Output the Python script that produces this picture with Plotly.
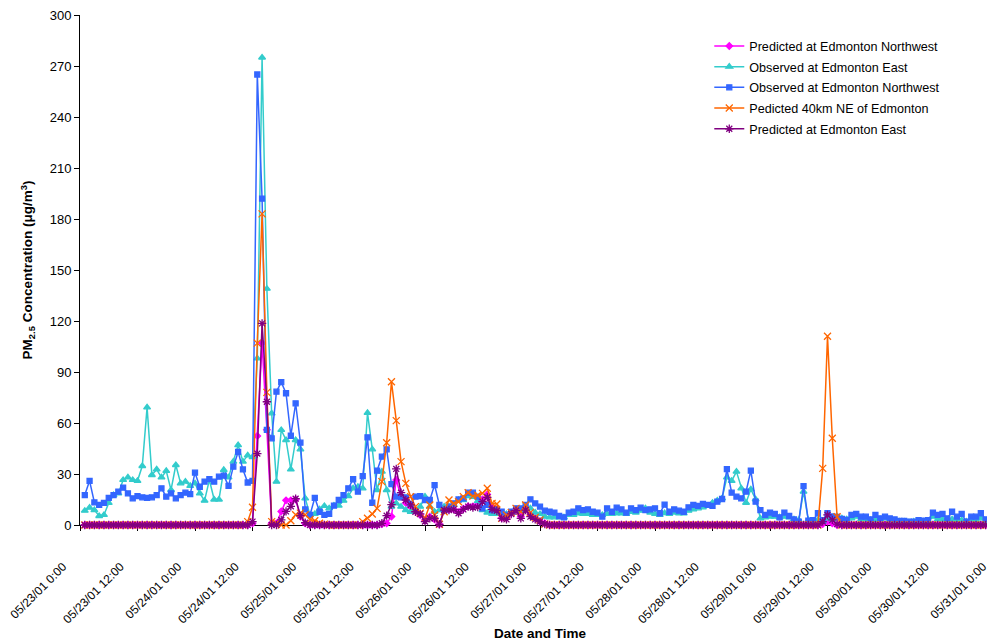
import pandas as pd
import plotly.graph_objects as go

# Hourly timestamps 05/23/01 01:00 .. 05/31/01 00:00 (192 hours)
times = pd.date_range("2001-05-23 01:00", periods=192, freq="h")

obs_nw = [17.6, 26, 13.3, 11.8, 13, 16, 17.6, 19.6, 22, 18.6, 15.7, 17, 16.3, 16, 16.3, 17.6, 21.6, 16.7, 18.6, 15.7,
          17.6, 19, 18.2, 30.8, 22.5, 25.5, 27, 25.5, 28.4, 29, 23, 34.3, 43, 32.7, 25, 26, 265, 192, 56, 51,
          78.4, 84, 77.5, 52.5, 71.6, 48.4, 9.2, 5.9, 16, 7.8, 5.9, 6.5, 11.4, 14.7, 17.6, 21.6, 26.9, 19.6, 28.8, 51.6,
          13.1, 32, 40.2, 44.5, 24.1, 16.7, 16.3, 16.3, 12.4, 16.7, 17, 14.7, 14.7, 23.5, 11.8, 8.4, 10.8, 12.7, 15, 15.7,
          19, 19, 16.7, 9.8, 11.8, 8.8, 9.2, 7.8, 5.9, 7.8, 9.8, 9.8, 11.8, 15.1, 12.7, 10.8, 8.4, 7.8, 7.3, 5.3,
          4.5, 7.3, 7.8, 9.8, 8.8, 9.2, 7.8, 7.3, 4.9, 9.8, 7.8, 10.2, 9.2, 7.3, 9.8, 8.8, 10.2, 8.8, 9.2, 9.8,
          6.9, 12, 7.8, 9.2, 8.4, 7.8, 10.4, 11.8, 11.2, 12.4, 11.8, 11.2, 13.7, 15.3, 32.9, 19, 16.7, 15.7, 19.6, 32,
          13.7, 8.8, 5.9, 7.3, 6.5, 4.5, 7.3, 5.3, 3.3, 2, 22.9, 2.5, 2.9, 6.9, 2.9, 7, 5, 4.7, 3.6, 3,
          5.9, 6.6, 4.9, 4.9, 3.3, 5.9, 3.9, 4.9, 3.9, 3.3, 2.4, 2.4, 2, 2, 2.9, 2.5, 2.9, 7.3, 5.9, 6.5,
          3.9, 7.8, 4.9, 6.5, 2, 4.9, 4.9, 6.9, 3.3, 2.4, 4.9, 4.7]

obs_east = [8.4, 10.2, 8.8, 5.3, 5.9, 13, 17.6, 18.6, 26.5, 28, 26.5, 26, 34.7, 69.2, 29.4, 32.7, 28, 31.8, 20.6, 35.3,
            24.5, 25.5, 23, 24.5, 18.6, 14.3, 26.5, 15, 15, 32.4, 28, 37.3, 47, 37.3, 41, 40, 98, 275, 139, 65.7,
            25.5, 55.9, 50, 32.7, 50, 44.5, 15.7, 5.9, 6.5, 9.2, 11.2, 9.8, 11.4, 11.4, 14.3, 17, 21.6, 22.5, 21.6, 66,
            44.5, 20.6, 31.4, 20.6, 10.8, 12.7, 10.8, 8.8, 7.8, 8.8, 10.8, 16.7, 10.8, 7.8, 8.8, 10.8, 10.8, 11.8, 14.7, 14.7,
            17, 16.5, 14, 8.8, 7.3, 6.5, 6.5, 6.9, 6.5, 7.3, 9.2, 8.4, 9.2, 9.8, 7.3, 6.5, 4.9, 4.5, 4.5, 4.5,
            4.5, 5.9, 5.9, 6.9, 6.5, 6.5, 5.9, 5.9, 5.9, 6.5, 6.5, 6.9, 6.9, 6.5, 7.8, 7.3, 8.4, 9.8, 7.3, 6.5,
            5.9, 7, 6.5, 7.3, 6.9, 6.9, 8.4, 9.2, 9.8, 10.4, 11.2, 13.1, 14.3, 15.7, 28, 26, 31.4, 21.6, 13.1, 21,
            15.1, 3.9, 4.5, 4.9, 4.9, 4.5, 4.9, 4.5, 3.3, 2.9, 19.6, 2.9, 2.4, 2.9, 2, 3.9, 3.3, 4.9, 3.9, 3.3,
            3.9, 4.9, 3.3, 3.3, 2.9, 2.9, 3.3, 3.9, 2.9, 2, 2, 2, 1.6, 2, 2, 2, 2, 4.9, 3.3, 3.3,
            2.9, 3.3, 2.9, 2.9, 2, 3.3, 2.9, 3.9, 2.4, 2, 2.9, 3]

pred_ne = ([0] * 34 + [2, 10.4, 107, 183, 78, 2, 1, 0, 0, 2.5, 6, 7, 6, 3.3, 2.5, 1, 0.5]
           + [0] * 7 + [2, 4, 6.5, 9.8, 25.5, 48.4, 84.3, 61.4, 37.3, 24.5, 16.7, 10.8, 6.9, 3.9, 11.8, 5.9, 0.4,
                        7.8, 14.7, 12.7, 13.7, 16.7, 19, 17, 17.5, 18.6, 21.6, 12.7, 12.4, 3.9, 5.9, 7.3, 9.8, 7.8,
                        11.8, 7.3, 4.5, 2.9, 0.6]
           + [0] * 57 + [33.3, 111, 51, 4.9] + [0] * 34)

pred_nw = ([0] * 35 + [1, 52.4, 107, 56, 1, 1, 8, 14.5, 14.5, 15, 5, 1]
           + [0] * 15 + [0.5, 1, 5, 26.5, 16.7, 13, 10.8, 8.4, 5.9, 3, 4.9, 3.3, 0.4, 8.8, 9, 9.2, 7.5, 9.5,
                         11, 11, 12, 15, 18, 11, 9, 4, 4, 7, 9, 5, 9, 6, 4, 2, 1]
           + [0] * 57 + [0.5, 2, 1] + [0] * 35)

pred_east = ([0] * 35 + [2, 42, 118.6, 72.5, 0, 0, 3, 8, 11, 15.5, 5.5, 1.4]
             + [0] * 15 + [1, 5.5, 12, 33, 19, 14.7, 11.8, 7.8, 6.5, 2, 3.9, 3.9, 0.4, 8.8, 8.8, 9.2, 6.9, 9.2,
                           10.8, 10.3, 10.5, 13.7, 16.3, 9.2, 8.4, 3.9, 3.3, 6.5, 8.4, 3.9, 8.8, 4.9, 3.3, 2, 0.6]
             + [0] * 57 + [2, 5.9, 3, 0.5] + [0] * 34)

tick_vals = pd.date_range("2001-05-23 00:00", "2001-05-31 00:00", freq="12h")
tick_text = ["05/23/01 0:00", "05/23/01 12:00", "05/24/01 0:00", "05/24/01 12:00",
             "05/25/01 0:00", "05/25/01 12:00", "05/26/01 0:00", "05/26/01 12:00",
             "05/27/01 0:00", "05/27/01 12:00", "05/28/01 0:00", "05/28/01 12:00",
             "05/29/01 0:00", "05/29/01 12:00", "05/30/01 0:00", "05/30/01 12:00",
             "05/31/01 0:00"]
y_ticks = [0, 30, 60, 90, 120, 150, 180, 210, 240, 270, 300]

FONT = "Arial, Liberation Sans, sans-serif"

series = [
    ("Predicted at Edmonton Northwest", pred_nw, "#FF00FF", dict(symbol="diamond", size=5)),
    ("Observed at Edmonton East", obs_east, "#33CCCC", dict(symbol="triangle-up", size=6)),
    ("Observed at Edmonton Northwest", obs_nw, "#3366FF", dict(symbol="square", size=5)),
    ("Pedicted 40km NE of Edmonton", pred_ne, "#FF6600", dict(symbol="x-thin-open", size=7)),
    ("Predicted at Edmonton East", pred_east, "#800080", dict(symbol="asterisk-open", size=7)),
]

fig = go.Figure()
for i, (name, vals, col, mk) in enumerate(series):
    marker = dict(color=col, line=dict(color=col, width=1.3), **mk)
    fig.add_trace(go.Scatter(
        x=times, y=vals, name=name, mode="lines+markers", legendgroup=f"g{i}",
        line=dict(color=col, width=1.5), marker=marker, cliponaxis=False,
    ))

# page body has an 8px margin; the reference plot area runs slightly past the right edge
fig.update_layout(
    width=992, height=635,
    margin=dict(l=72, r=0, t=7, b=118),
    paper_bgcolor="white", plot_bgcolor="white",
    font=dict(family=FONT, size=13, color="black"),
    showlegend=True,
    legend=dict(x=0.684, y=0.968, xanchor="left", yanchor="top",
                font=dict(size=12.6, family=FONT), bgcolor="rgba(0,0,0,0)",
                tracegroupgap=1.3, itemwidth=30),
    xaxis=dict(
        type="date",
        range=[tick_vals[0], tick_vals[-1]],
        tickvals=tick_vals, ticktext=tick_text, tickangle=-45,
        tickfont=dict(size=12, family=FONT),
        ticklabelstandoff=24, ticklabelshift=-17, ticklabeloverflow="allow",
        showline=True, linecolor="black", linewidth=1,
        ticks="outside", ticklen=5, tickcolor="black",
        showgrid=False, zeroline=False, layer="below traces",
        title=dict(text="<b>Date and Time</b>", font=dict(size=13.5, family=FONT), standoff=0),
        automargin=False,
    ),
    yaxis=dict(
        range=[0, 300], tickvals=y_ticks,
        tickfont=dict(size=13, family=FONT), ticklabeloverflow="allow",
        showline=True, linecolor="black", linewidth=1,
        ticks="outside", ticklen=5, tickcolor="black",
        showgrid=False, zeroline=False, layer="below traces",
        title=dict(text="<b>PM<sub>2.5</sub> Concentration (μg/m<sup>3</sup>)</b>",
                   font=dict(size=13.5, family=FONT), standoff=13),
        automargin=False,
    ),
)

fig.write_html("out.html")
